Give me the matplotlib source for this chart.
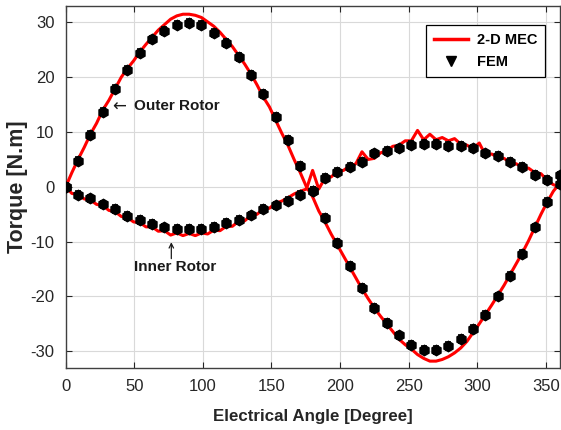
import numpy as np
import matplotlib
matplotlib.use("Agg")
import matplotlib.pyplot as plt
from matplotlib.lines import Line2D

plt.rcParams['font.family'] = ['Liberation Sans', 'DejaVu Sans']

# ---- data ----
mec_angle = np.arange(0, 360.1, 4.5)
outer_mec = [0.0, 2.6, 5.0, 7.2, 9.6, 11.6, 14.0, 15.8, 17.9, 20.0,
             21.6, 23.0, 24.6, 26.0, 27.3, 28.6, 29.6, 30.6, 31.2, 31.5,
             31.5, 31.3, 30.9, 30.1, 29.3, 28.2, 26.9, 25.6, 24.0, 22.4,
             20.6, 18.6, 16.4, 14.6, 12.2, 9.8, 7.6, 5.0, 2.6, 0.0,
             -1.8, -4.4, -6.4, -8.6, -10.6, -12.6, -14.6, -16.6, -18.6, -20.4,
             -22.1, -23.6, -25.0, -26.4, -27.8, -28.8, -29.6, -30.6, -31.3, -31.8,
             -31.8, -31.5, -31.0, -30.3, -29.4, -28.2, -26.6, -25.0, -23.3, -21.6,
             -19.8, -18.0, -16.0, -14.0, -12.0, -9.8, -7.4, -5.0, -2.8, -0.8, 0.6]
inner_mec = [0.0, -1.2, -1.4, -2.2, -2.4, -3.2, -3.4, -4.3, -4.5, -5.4,
             -5.6, -6.4, -6.5, -7.3, -7.3, -8.1, -8.0, -8.8, -8.4, -8.9,
             -8.5, -8.9, -8.4, -8.6, -7.9, -8.0, -7.2, -7.2, -6.3, -6.2,
             -5.2, -5.0, -4.1, -3.9, -3.0, -2.6, -2.0, -1.3, -0.8, -0.4,
             3.0, -0.4, 1.6, 1.8, 2.8, 3.0, 3.8, 4.2, 6.4, 5.0,
             5.2, 6.2, 6.6, 7.4, 7.6, 8.4, 8.4, 10.3, 8.6, 9.6,
             8.6, 9.0, 8.4, 8.8, 7.8, 7.6, 7.0, 8.0, 5.8, 6.0,
             5.4, 5.2, 4.5, 4.2, 3.6, 3.4, 2.6, 2.4, 1.2, 0.4, 0.0]

fem_angle = np.arange(0, 361, 9)
outer_fem = [0.0, 4.8, 9.4, 13.7, 17.8, 21.4, 24.4, 26.9, 28.4, 29.6,
             29.9, 29.5, 28.1, 26.3, 23.7, 20.5, 16.9, 12.8, 8.5, 3.8,
             -0.8, -5.6, -10.3, -14.4, -18.5, -22.1, -24.8, -27.1, -28.9, -29.7,
             -29.8, -29.1, -27.8, -25.9, -23.3, -20.0, -16.2, -12.2, -7.4, -2.7, 0.5]
inner_fem = [0.0, -1.4, -2.1, -3.2, -4.1, -5.3, -6.1, -6.8, -7.4, -7.7,
             -7.7, -7.7, -7.3, -6.6, -6.0, -5.2, -4.1, -3.4, -2.5, -1.4,
             -0.8, 1.6, 2.7, 3.6, 4.6, 6.1, 6.6, 7.0, 7.6, 7.8,
             7.8, 7.5, 7.5, 7.0, 6.1, 5.7, 4.6, 3.7, 2.2, 1.2, 2.1]

xticks = [0, 50, 100, 150, 200, 250, 300, 350]
yticks = [-30, -20, -10, 0, 10, 20, 30]

# ---- figure ----
fig = plt.figure(figsize=(5.61, 4.30), dpi=100)
ax = fig.add_axes([65.7/561, 1-367.7/430, (559.5-65.7)/561, (367.7-6)/430])

red = '#ff0000'
ax.plot(mec_angle, outer_mec, color=red, lw=2.2, zorder=3)
ax.plot(mec_angle, inner_mec, color=red, lw=2.2, zorder=3)

fem_kw = dict(fmt='h', color='k', ms=7.5, yerr=0.7, capsize=2.5, elinewidth=1.2,
              capthick=1.2, zorder=4)
ax.errorbar(fem_angle, outer_fem, **fem_kw)
ax.errorbar(fem_angle, inner_fem, **fem_kw)

ax.set_xlim(0, 360)
ax.set_ylim(-33, 33)
ax.set_xticks(xticks)
ax.set_yticks(yticks)
ax.set_xticklabels([str(t) for t in xticks])
ax.set_yticklabels([str(t) for t in yticks])
ax.grid(True, color='#d9d9d9', lw=0.8)
ax.set_axisbelow(True)
ax.tick_params(direction='in', top=True, right=True, length=4, width=0.8,
               labelsize=12, colors='#262626', pad=8)
for s in ax.spines.values():
    s.set_color('#404040')
    s.set_linewidth(1.0)

ax.set_xlabel('Electrical Angle [Degree]', fontsize=12.2, fontweight='bold',
              color='#262626', labelpad=11)
ax.set_ylabel('Torque [N.m]', fontsize=15.5, fontweight='bold', color='#262626',
              labelpad=2)

ax.text(34, 14.7, '\u2190', fontsize=12, family='DejaVu Sans',
        ha='left', va='center', color='#1a1a1a')
ax.text(49.5, 14.7, 'Outer Rotor', fontsize=11, fontweight='bold',
        ha='left', va='center', color='#1a1a1a')
ax.annotate('', xy=(77, -10.1), xytext=(77, -13.1),
            arrowprops=dict(arrowstyle='->', lw=0.9, color='#1a1a1a',
                            shrinkA=0, shrinkB=0, mutation_scale=8))
ax.text(80, -14.6, 'Inner Rotor', fontsize=11, fontweight='bold',
        ha='center', va='center', color='#1a1a1a')

handles = [Line2D([0], [0], color=red, lw=2.5),
           Line2D([0], [0], marker='v', color='k', ls='none', ms=7)]
leg = ax.legend(handles, ['2-D MEC', 'FEM'], loc='upper right',
                bbox_to_anchor=(0.971, 0.947), borderaxespad=0,
                fancybox=False, framealpha=1,
                edgecolor='k', prop=dict(weight='bold', size=10.5),
                handlelength=2.3, handletextpad=0.6, borderpad=0.55,
                labelspacing=0.55)
leg.get_frame().set_linewidth(0.9)

fig.savefig('out.png', dpi=100)
